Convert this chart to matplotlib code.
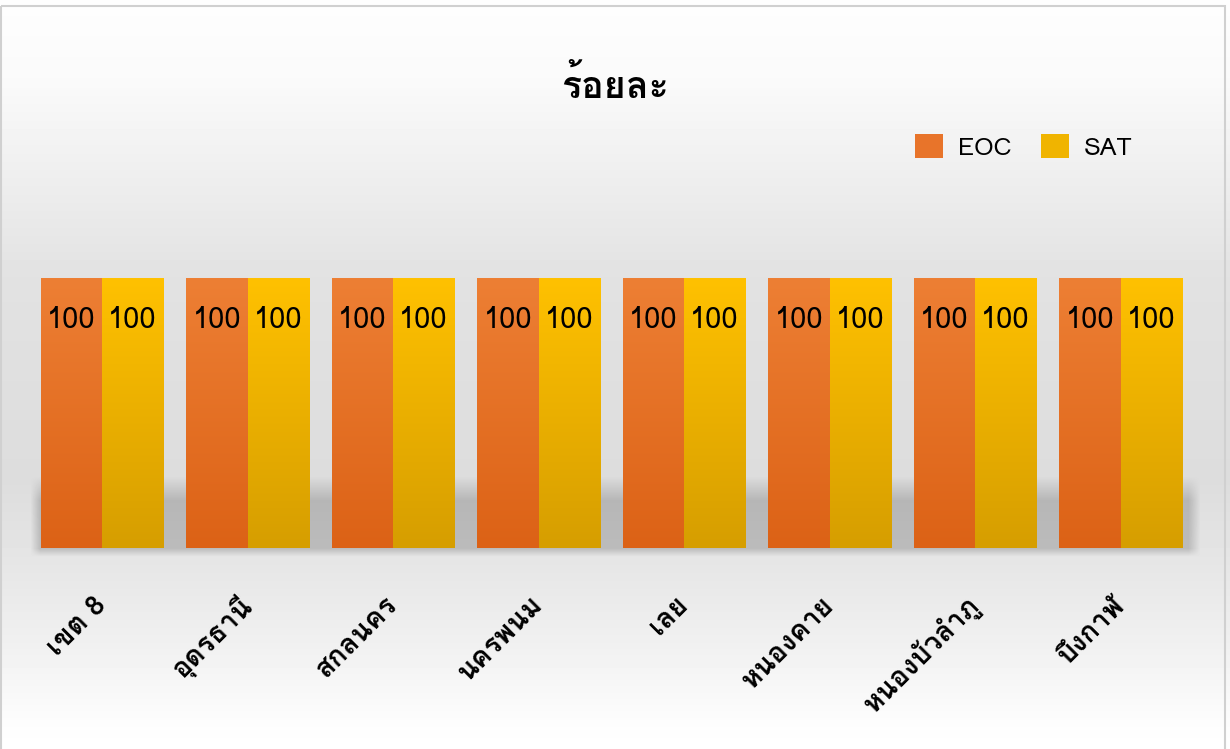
import numpy as np
import matplotlib
matplotlib.use('Agg')
import matplotlib.pyplot as plt
from matplotlib import font_manager
from matplotlib.ft2font import FT2Font
from matplotlib.patches import Rectangle, Patch

# data
categories = ['เขต 8', 'อุดรธานี', 'สกลนคร', 'นครพนม', 'เลย', 'หนองคาย', 'หนองบัวลำภู', 'บึงกาฬ']
eoc = [100, 100, 100, 100, 100, 100, 100, 100]
sat = [100, 100, 100, 100, 100, 100, 100, 100]
series_names = ['EOC', 'SAT']


def find_thai_font():
    # look for any installed font that has Thai glyphs
    for f in font_manager.fontManager.ttflist:
        try:
            if FT2Font(f.fname).get_char_index(0x0E23):
                return f.name
        except Exception:
            pass
    return None


thai = find_thai_font()
families = ([thai] if thai else []) + ['DejaVu Sans']
plt.rcParams['font.family'] = families

W, H = 1230, 749
fig = plt.figure(figsize=(W / 100, H / 100), dpi=100)

# background: white -> grey -> white, plus a soft floor shadow behind the bars
rows = np.arange(H)
g = np.interp(rows, [0, 80, 280, 480, 560, 640, 720, 749],
              [0.995, 0.98, 0.885, 0.865, 0.9, 0.94, 0.99, 1.0])
bg_img = np.tile(g[:, None], (1, W))
ys = np.arange(H)[:, None]
xs = np.arange(W)[None, :]
shadow_v = np.clip((ys - 476) / 24.0, 0, 1) * np.clip((556 - ys) / 8.0, 0, 1)
shadow_h = np.clip((xs - 30) / 10.0, 0, 1) * np.clip((1200 - xs) / 12.0, 0, 1)
bg_img = bg_img - 0.16 * shadow_v * shadow_h
bg = fig.add_axes([0, 0, 1, 1], zorder=-1)
bg.imshow(bg_img, cmap='gray', vmin=0, vmax=1, aspect='auto',
          extent=(0, W, H, 0))
bg.add_patch(Rectangle((0.5, 6), W - 6, H, fill=False, edgecolor='#d0d0d0', lw=1.5))
bg.set_xlim(0, W)
bg.set_ylim(H, 0)
bg.axis('off')

# main axes
ax = fig.add_axes([29.25 / W, (H - 548) / H, 1164 / W, 324 / H])
ax.set_facecolor('none')
for s in ax.spines.values():
    s.set_visible(False)
ax.set_yticks([])

x = np.arange(len(categories))
w = 0.42
b1 = ax.bar(x - w / 2, eoc, w, color='#E8742A', label=series_names[0])
b2 = ax.bar(x + w / 2, sat, w, color='#F0B400', label=series_names[1])


def shade(bars, top, bottom):
    grad = np.linspace(0, 1, 100)[:, None, None]
    img = (1 - grad) * np.array(top)[None, None, :] + grad * np.array(bottom)[None, None, :]
    img = img / 255.0
    for bar in bars:
        bx, by = bar.get_x(), bar.get_y()
        bw, bh = bar.get_width(), bar.get_height()
        im = ax.imshow(img, extent=(bx, bx + bw, by, by + bh), aspect='auto',
                       zorder=bar.get_zorder() + 0.1, origin='upper')
        im.set_clip_path(bar)


shade(b1, (237, 127, 52), (220, 98, 22))
shade(b2, (255, 193, 0), (214, 158, 0))
ax.set_xlim(-0.5, len(categories) - 0.5)
ax.set_ylim(0, 120)
ax.set_aspect('auto')

for bars in (b1, b2):
    lbls = ax.bar_label(bars, padding=-40, fontsize=21, color='black')
    for t in lbls:
        t.set_zorder(5)

ax.set_xticks(x)
ax.set_xticklabels(categories, rotation=45, ha='right', va='center',
                   rotation_mode='anchor', fontsize=20, fontweight='semibold')
ax.tick_params(axis='x', length=0, pad=38)

fig.text(615 / W, 1 - 86 / H, 'ร้อยละ', ha='center', va='center',
         fontsize=27, fontweight='bold')

handles = [Patch(facecolor='#E8742A'), Patch(facecolor='#F0B400')]
fig.legend(handles, series_names, loc='center', ncol=2, frameon=False,
           bbox_to_anchor=(1024 / W, 1 - 147 / H), fontsize=18,
           handlelength=1.1, handleheight=1.1, columnspacing=1.2,
           handletextpad=0.6)

fig.savefig('out.png', dpi=100)
